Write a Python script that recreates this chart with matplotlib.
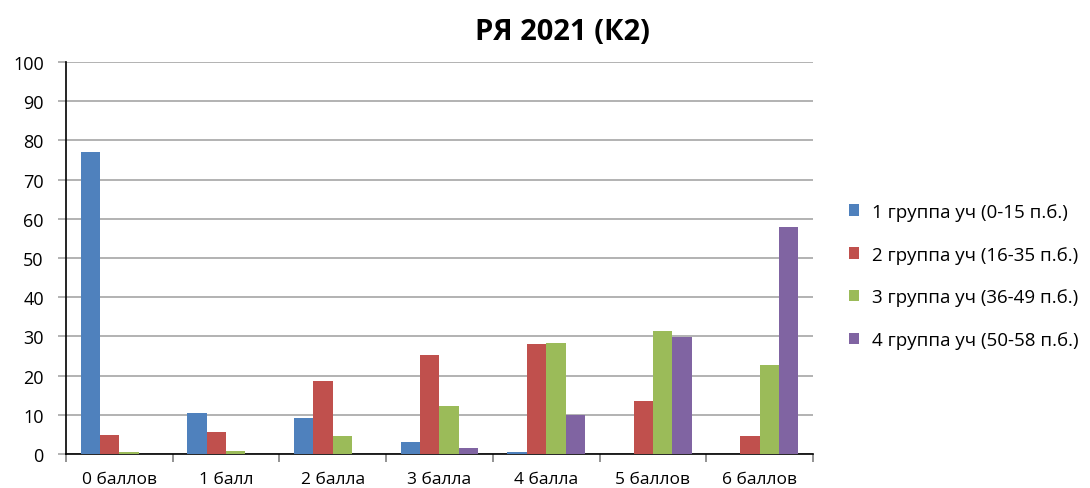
import matplotlib.pyplot as plt
import numpy as np

plt.rcParams['font.family'] = ['Open Sans', 'DejaVu Sans']

categories = ['0 баллов', '1 балл', '2 балла', '3 балла', '4 балла', '5 баллов', '6 баллов']
series_names = ['1 группа уч (0-15 п.б.)', '2 группа уч (16-35 п.б.)',
                '3 группа уч (36-49 п.б.)', '4 группа уч (50-58 п.б.)']
group1 = [77.0, 10.5, 9.2, 3.1, 0.5, 0.0, 0.0]
group2 = [4.9, 5.6, 18.5, 25.2, 28.0, 13.6, 4.7]
group3 = [0.6, 0.8, 4.6, 12.3, 28.3, 31.3, 22.6]
group4 = [0.0, 0.0, 0.0, 1.5, 10.0, 29.8, 57.8]
colors = ['#4f81bd', '#c0504d', '#9bbb59', '#8064a2']

fig = plt.figure(figsize=(10.9, 4.89), dpi=100)
ax = fig.add_axes([66 / 1090, 1 - 455 / 489, (813 - 66) / 1090, (455 - 63) / 489])

x = np.arange(len(categories))
w = 1 / 5.5
for i, vals in enumerate([group1, group2, group3, group4]):
    ax.bar(x + (i - 1.5) * w, vals, width=w, color=colors[i], label=series_names[i], zorder=3)

ax.set_xlim(-0.5, len(categories) - 0.5)
ax.set_ylim(0, 100)
ax.set_yticks(range(0, 101, 10))
ax.yaxis.grid(True, color='#a6a6a6', linewidth=1.2, zorder=0)
ax.set_xticks(x)
ax.set_xticklabels(categories)
ax.set_xticks(np.arange(-0.5, len(categories)), minor=True)
ax.tick_params(axis='x', which='major', length=0, labelsize=12.5, pad=12)
ax.tick_params(axis='x', which='minor', length=6, width=1.2, color='#808080')
ax.tick_params(axis='y', length=6, width=1.2, color='#a6a6a6', labelsize=13, pad=10)
for s in ['top', 'right']:
    ax.spines[s].set_visible(False)
ax.spines['left'].set_linewidth(1.2)
ax.spines['bottom'].set_linewidth(1.2)

fig.text(562 / 1090, 1 - 32 / 489, 'РЯ 2021 (К2)', ha='center', va='center',
         fontsize=21, fontweight='bold')

ax.legend(loc='center left', bbox_to_anchor=(832 / 1090, 1 - 277 / 489),
          bbox_transform=fig.transFigure, frameon=False, fontsize=13.5,
          handlelength=0.55, handleheight=0.55, handletextpad=0.7, labelspacing=1.33)

fig.savefig('out.png', dpi=100)
